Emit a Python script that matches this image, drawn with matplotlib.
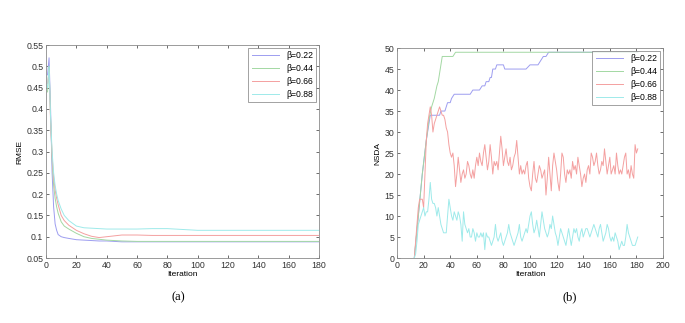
import matplotlib
matplotlib.use("Agg")
import matplotlib.pyplot as plt

plt.rcParams['font.family'] = ['Liberation Sans', 'DejaVu Sans']

labels = ['β=0.22', 'β=0.44', 'β=0.66', 'β=0.88']
colors = ['#9d9df0', '#a3d8a3', '#f4a0a0', '#9eeaea']

# --- (a) RMSE vs iteration
rmse_x = [1, 2, 3, 4, 5, 6, 7, 8, 10, 12, 15, 20, 25, 30, 35, 40, 45, 50, 60, 70, 80, 90, 100, 120, 140, 160, 180]
rmse_022 = [0.48, 0.52, 0.40, 0.25, 0.17, 0.13, 0.115, 0.105, 0.100, 0.098, 0.096, 0.093, 0.092, 0.091, 0.090, 0.090, 0.089, 0.088, 0.088, 0.088, 0.088, 0.088, 0.088, 0.088, 0.088, 0.088, 0.088]
rmse_044 = [0.44, 0.50, 0.38, 0.28, 0.22, 0.19, 0.17, 0.155, 0.135, 0.125, 0.118, 0.108, 0.100, 0.096, 0.094, 0.092, 0.091, 0.090, 0.089, 0.089, 0.089, 0.089, 0.089, 0.089, 0.089, 0.089, 0.089]
rmse_066 = [0.46, 0.49, 0.37, 0.29, 0.24, 0.21, 0.19, 0.175, 0.150, 0.138, 0.127, 0.115, 0.107, 0.101, 0.098, 0.100, 0.102, 0.104, 0.104, 0.103, 0.103, 0.103, 0.103, 0.103, 0.103, 0.103, 0.103]
rmse_088 = [0.45, 0.50, 0.38, 0.30, 0.25, 0.22, 0.20, 0.185, 0.165, 0.150, 0.138, 0.125, 0.121, 0.120, 0.119, 0.118, 0.118, 0.118, 0.118, 0.119, 0.119, 0.117, 0.115, 0.115, 0.115, 0.115, 0.115]

# --- (b) NSDA vs iteration
g_x = [13, 16, 19, 22, 24, 26, 27, 28, 30, 31, 32, 34, 42, 44, 181]
g_y = [0, 10, 20, 28, 33, 36, 37, 38, 41, 42, 44, 48, 48, 49, 49]

b_x = [13, 16, 19, 22, 24, 25, 30, 32, 33, 36, 37, 38, 40, 41, 43, 55, 57, 62, 64, 66, 67, 69, 70, 71, 72, 74, 75, 80, 81, 97, 100, 106, 108, 110, 112, 114, 181]
b_y = [0, 10, 20, 28, 32, 34, 34, 34, 35, 35, 36, 37, 37, 38, 39, 39, 40, 40, 41, 41, 42, 42, 43, 43, 45, 45, 46, 46, 45, 45, 46, 46, 47, 48, 48, 49, 49]

nsda_start = 13
r_y = [0, 4, 8, 12, 14, 14, 14, 12, 20, 28,
       32, 34, 36, 34, 30, 32, 33, 34, 35, 36,
       35, 34, 34, 33, 31, 30, 27, 25, 24, 25,
       22, 17, 20, 24, 21, 18, 20, 21, 19, 20,
       23, 22, 20, 19, 21, 19, 22, 24, 22, 25,
       23, 22, 25, 27, 24, 21, 23, 27, 24, 20,
       23, 22, 23, 21, 25, 29, 26, 22, 24, 26,
       23, 22, 24, 21, 22, 24, 25, 28, 24, 20,
       22, 20, 21, 20, 22, 23, 19, 17, 16, 20,
       23, 19, 18, 20, 22, 21, 19, 20, 21, 15,
       19, 24, 20, 16, 22, 25, 23, 21, 18, 16,
       20, 25, 24, 20, 18, 21, 20, 21, 19, 23,
       21, 22, 20, 24, 22, 20, 17, 19, 20, 18,
       21, 22, 20, 25, 24, 22, 23, 25, 22, 20,
       21, 23, 22, 26, 23, 20, 22, 24, 20, 21,
       22, 20, 25, 22, 20, 21, 20, 22, 24, 25,
       20, 21, 19, 22, 20, 19, 27, 25, 26]
c_y = [0, 1, 4, 8, 9, 10, 11, 12, 10, 11,
       11, 14, 18, 14, 13, 13, 12, 10, 12, 10,
       8, 7, 6, 6, 6, 10, 14, 12, 10, 9,
       11, 10, 9, 11, 10, 8, 4, 11, 8, 7,
       6, 7, 5, 5, 7, 6, 4, 6, 5, 5,
       6, 5, 6, 2, 6, 5, 5, 4, 3, 4,
       5, 8, 5, 4, 5, 6, 4, 3, 4, 5,
       6, 8, 6, 5, 4, 3, 4, 5, 6, 8,
       5, 4, 5, 6, 7, 6, 8, 10, 11, 8,
       6, 7, 9, 7, 5, 8, 11, 9, 7, 6,
       5, 6, 8, 7, 10, 8, 6, 5, 3, 5,
       7, 6, 5, 4, 3, 5, 7, 5, 3, 5,
       7, 6, 7, 5, 4, 6, 7, 5, 6, 7,
       7, 6, 5, 6, 7, 8, 7, 6, 5, 7,
       8, 6, 4, 5, 6, 8, 7, 5, 4, 5,
       4, 6, 5, 4, 2, 3, 4, 3, 3, 5,
       8, 6, 5, 4, 3, 3, 3, 4, 5]
r_x = list(range(nsda_start, nsda_start + len(r_y)))
c_x = list(range(nsda_start, nsda_start + len(c_y)))

fig = plt.figure(figsize=(6.85, 3.23), dpi=100)
ax1 = fig.add_axes([0.0672, 0.2012, 0.3985, 0.6594])
ax2 = fig.add_axes([0.5796, 0.2012, 0.3883, 0.650])

lw = 0.7
for y, c, l in zip([rmse_022, rmse_044, rmse_066, rmse_088], colors, labels):
    ax1.plot(rmse_x, y, color=c, lw=lw, label=l)
ax1.set_xlim(0, 180)
ax1.set_ylim(0.05, 0.55)
ax1.set_xticks(range(0, 181, 20))
ax1.set_yticks([0.05, 0.1, 0.15, 0.2, 0.25, 0.3, 0.35, 0.4, 0.45, 0.5, 0.55])
ax1.set_yticklabels(['0.05', '0.1', '0.15', '0.2', '0.25', '0.3', '0.35', '0.4', '0.45', '0.5', '0.55'])
ax1.set_xlabel('Iteration', fontsize=6, labelpad=1)
ax1.set_ylabel('RMSE', fontsize=6, labelpad=2)

ax2.plot(b_x, b_y, color=colors[0], lw=lw, label=labels[0])
ax2.plot(g_x, g_y, color=colors[1], lw=lw, label=labels[1])
ax2.plot(r_x, r_y, color=colors[2], lw=lw, label=labels[2])
ax2.plot(c_x, c_y, color=colors[3], lw=lw, label=labels[3])
ax2.set_xlim(0, 200)
ax2.set_ylim(0, 50)
ax2.set_xticks(range(0, 201, 20))
ax2.set_yticks(range(0, 51, 5))
ax2.set_xlabel('Iteration', fontsize=6, labelpad=1)
ax2.set_ylabel('NSDA', fontsize=6, labelpad=2)

for ax in (ax1, ax2):
    ax.tick_params(direction='in', length=2, width=0.5, labelsize=6.3, pad=2,
                   top=True, right=True, colors='#333333')
    for s in ax.spines.values():
        s.set_color('#8a8a8a')
        s.set_linewidth(0.6)
    leg = ax.legend(loc='upper right', fontsize=6.2, frameon=True, fancybox=False,
                    handlelength=3.2, borderpad=0.4, labelspacing=0.45,
                    borderaxespad=0.3, handletextpad=0.8)
    leg.get_frame().set_edgecolor('#777777')
    leg.get_frame().set_linewidth(0.6)

fig.text(0.261, 0.08, '(a)', ha='center', va='center', fontsize=9, family='Liberation Serif')
fig.text(0.831, 0.08, '(b)', ha='center', va='center', fontsize=9, family='Liberation Serif')

fig.savefig('out.png', dpi=100)
